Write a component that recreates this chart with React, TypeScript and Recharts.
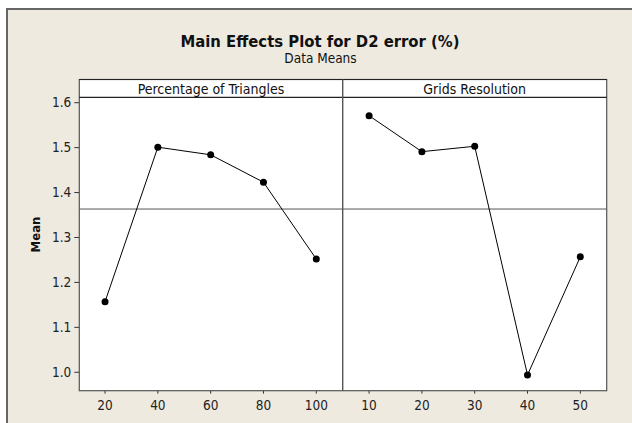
import React from 'react';
import { LineChart, Line, XAxis, YAxis, ReferenceLine } from 'recharts';

const triangleLevels = [20, 40, 60, 80, 100];
const triangleMeans = [1.157, 1.501, 1.484, 1.423, 1.252];
const gridLevels = [10, 20, 30, 40, 50];
const gridMeans = [1.571, 1.491, 1.503, 0.994, 1.257];
const yTicks = [1.0, 1.1, 1.2, 1.3, 1.4, 1.5, 1.6];
const panelTitles = ['Percentage of Triangles', 'Grids Resolution'];
const chartTitle = 'Main Effects Plot for D2 error (%)';
const chartSubtitle = 'Data Means';
const yLabel = 'Mean';

const triangleData = triangleLevels.map((x, i) => ({ x, y: triangleMeans[i] }));
const gridData = gridLevels.map((x, i) => ({ x, y: gridMeans[i] }));
const allMeans = [...triangleMeans, ...gridMeans];
const grandMean = allMeans.reduce((a, b) => a + b, 0) / allMeans.length;

const W = 632;
const H = 423;
const F = "'DejaVu Sans Condensed', 'DejaVu Sans', sans-serif";
const PL = 79.3;
const PR = 606.7;
const PD = 342.7;
const HT = 79.5;
const PT = 97.3;
const PB = 390.7;
const Y_DOMAIN: [number, number] = [0.959, 1.612];

const tickStyle = { fontSize: 13.5, fill: '#222', fontFamily: F };

export default function App() {
  return (
    <div style={{ position: 'absolute', left: 0, top: 0, width: W, height: H, background: '#fff', overflow: 'hidden' }}>
      <div
        style={{
          position: 'absolute',
          left: 6,
          top: 8,
          width: W - 6,
          height: H - 8,
          background: '#EEEAE0',
          borderLeft: '2px solid #666',
          borderTop: '2px solid #666',
          boxSizing: 'border-box',
        }}
      />
      <div style={{ position: 'absolute', left: PL, top: HT, width: PR - PL, height: PB - HT, background: '#fff' }} />
      <div style={{ position: 'absolute', left: 0, top: 0 }}>
        <LineChart width={W} height={H} data={triangleData} margin={{ top: PT, right: W - PD, bottom: H - PB - 30, left: 0 }}>
          <XAxis
            dataKey="x"
            type="number"
            domain={[10.25, 110]}
            ticks={triangleLevels}
            interval={0}
            allowDataOverflow
            height={30}
            tickSize={3}
            tickMargin={7}
            axisLine={false}
            tickLine={{ stroke: '#333' }}
            tick={tickStyle}
          />
          <YAxis
            type="number"
            domain={Y_DOMAIN}
            ticks={yTicks}
            interval={0}
            allowDataOverflow
            width={PL}
            tickSize={5}
            tickMargin={3}
            axisLine={false}
            tickLine={{ stroke: '#333' }}
            tick={tickStyle}
            tickFormatter={(v: number) => v.toFixed(1)}
          />
          <ReferenceLine y={grandMean} stroke="#555" strokeWidth={1} />
          <Line
            type="linear"
            dataKey="y"
            stroke="#000"
            strokeWidth={1}
            dot={{ r: 3.5, fill: '#000', stroke: '#000', strokeWidth: 0 }}
            isAnimationActive={false}
          />
        </LineChart>
      </div>
      <div style={{ position: 'absolute', left: 0, top: 0 }}>
        <LineChart width={W} height={H} data={gridData} margin={{ top: PT, right: W - PR, bottom: H - PB - 30, left: PD }}>
          <XAxis
            dataKey="x"
            type="number"
            domain={[5, 55]}
            ticks={gridLevels}
            interval={0}
            allowDataOverflow
            height={30}
            tickSize={3}
            tickMargin={7}
            axisLine={false}
            tickLine={{ stroke: '#333' }}
            tick={tickStyle}
          />
          <YAxis type="number" domain={Y_DOMAIN} allowDataOverflow hide />
          <ReferenceLine y={grandMean} stroke="#555" strokeWidth={1} />
          <Line
            type="linear"
            dataKey="y"
            stroke="#000"
            strokeWidth={1}
            dot={{ r: 3.5, fill: '#000', stroke: '#000', strokeWidth: 0 }}
            isAnimationActive={false}
          />
        </LineChart>
      </div>
      <svg width={W} height={H} style={{ position: 'absolute', left: 0, top: 0, pointerEvents: 'none' }}>
        <rect x={PL} y={HT} width={PR - PL} height={PB - HT} fill="none" stroke="#555" strokeWidth={1.2} />
        <line x1={PL} x2={PR} y1={HT} y2={HT} stroke="#222" strokeWidth={1.2} />
        <line x1={PL} x2={PR} y1={PT} y2={PT} stroke="#222" strokeWidth={1.2} />
        <line x1={PD} x2={PD} y1={HT} y2={PB} stroke="#555" strokeWidth={1.4} />
        <text x={(PL + PD) / 2} y={93.5} textAnchor="middle" fontFamily={F} fontSize={14} fill="#111">
          {panelTitles[0]}
        </text>
        <text x={(PD + PR) / 2} y={93.5} textAnchor="middle" fontFamily={F} fontSize={14} fill="#111">
          {panelTitles[1]}
        </text>
        <text x={320} y={47} textAnchor="middle" fontFamily={F} fontSize={16.5} fontWeight="bold" fill="#111">
          {chartTitle}
        </text>
        <text x={320.5} y={63} textAnchor="middle" fontFamily={F} fontSize={13.5} fill="#111">
          {chartSubtitle}
        </text>
        <text
          x={0}
          y={0}
          transform={`translate(39.5, 234.5) rotate(-90)`}
          textAnchor="middle"
          fontFamily={F}
          fontSize={13}
          fontWeight="bold"
          fill="#111"
        >
          {yLabel}
        </text>
      </svg>
    </div>
  );
}
